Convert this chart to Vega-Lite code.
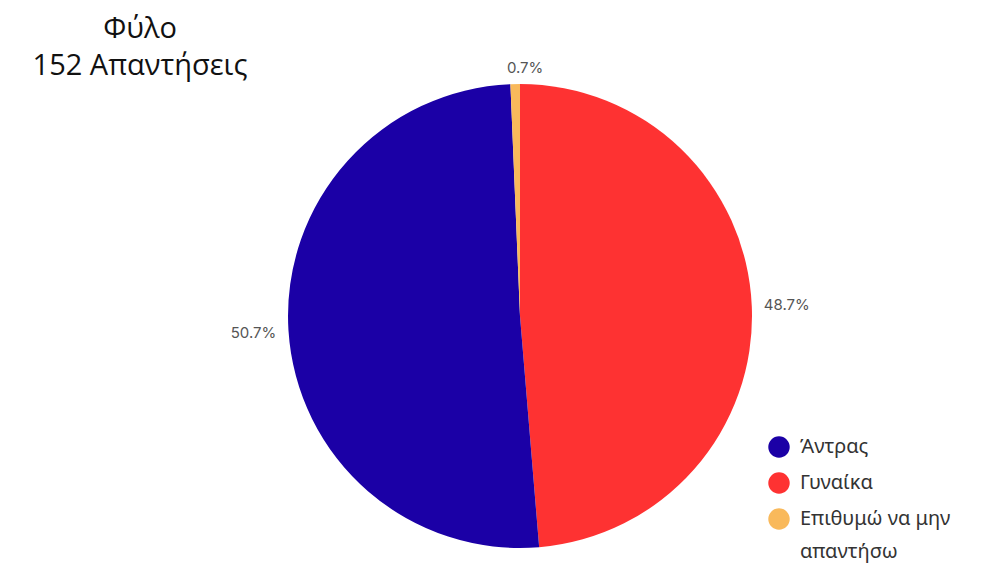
{
  "$schema": "https://vega.github.io/schema/vega-lite/v6.json",
  "autosize": {"type": "none"},
  "padding": {"left": 50, "top": 85, "right": 0, "bottom": 20},
  "width": 940,
  "height": 462,
  "background": "white",
  "config": {
    "view": {"stroke": null},
    "font": "Noto Sans",
    "style": {"guide-label": {"lineHeight": 33}}
  },
  "title": {
    "text": ["Φύλο", "152 Απαντήσεις"],
    "anchor": "start",
    "align": "center",
    "dx": 90,
    "dy": 28,
    "fontSize": 29,
    "fontWeight": "normal",
    "font": "Open Sans",
    "color": "#111111",
    "lineHeight": 37,
    "offset": 8
  },
  "data": {
    "values": [
      {"category": "Γυναίκα", "count": 74, "share": 0.487, "seq": 1},
      {"category": "Άντρας", "count": 77, "share": 0.507, "seq": 2},
      {"category": "Επιθυμώ να μην απαντήσω", "count": 1, "share": 0.007, "seq": 3}
    ]
  },
  "encoding": {
    "theta": {"field": "count", "type": "quantitative", "stack": true},
    "order": {"field": "seq", "type": "quantitative"}
  },
  "layer": [
    {
      "mark": {"type": "arc", "outerRadius": 232},
      "encoding": {
        "color": {
          "field": "category",
          "type": "nominal",
          "scale": {
            "domain": ["Άντρας", "Γυναίκα", "Επιθυμώ να μην απαντήσω"],
            "range": ["#1b00a6", "#fe3232", "#f9b95b"]
          },
          "legend": {
            "title": null,
            "orient": "none",
            "legendX": 718,
            "legendY": 351,
            "symbolType": "circle",
            "symbolSize": 460,
            "symbolStrokeWidth": 0,
            "labelFontSize": 20,
            "labelColor": "#333333",
            "labelFont": "Noto Sans",
            "labelLimit": 300,
            "rowPadding": 14,
            "labelOffset": 10,
            "labelExpr": "datum.label == 'Επιθυμώ να μην απαντήσω' ? ['Επιθυμώ να μην', 'απαντήσω'] : datum.label"
          }
        }
      }
    },
    {
      "transform": [{"filter": "datum.seq != 3"}],
      "mark": {"type": "text", "radius": 267, "fontSize": 15, "color": "#555555", "font": "Inter"},
      "encoding": {
        "text": {"field": "share", "type": "quantitative", "format": ".1%"}
      }
    },
    {
      "transform": [{"filter": "datum.seq == 3"}],
      "mark": {"type": "text", "radius": 248, "fontSize": 15, "color": "#555555", "font": "Inter"},
      "encoding": {
        "text": {"field": "share", "type": "quantitative", "format": ".1%"}
      }
    }
  ]
}
